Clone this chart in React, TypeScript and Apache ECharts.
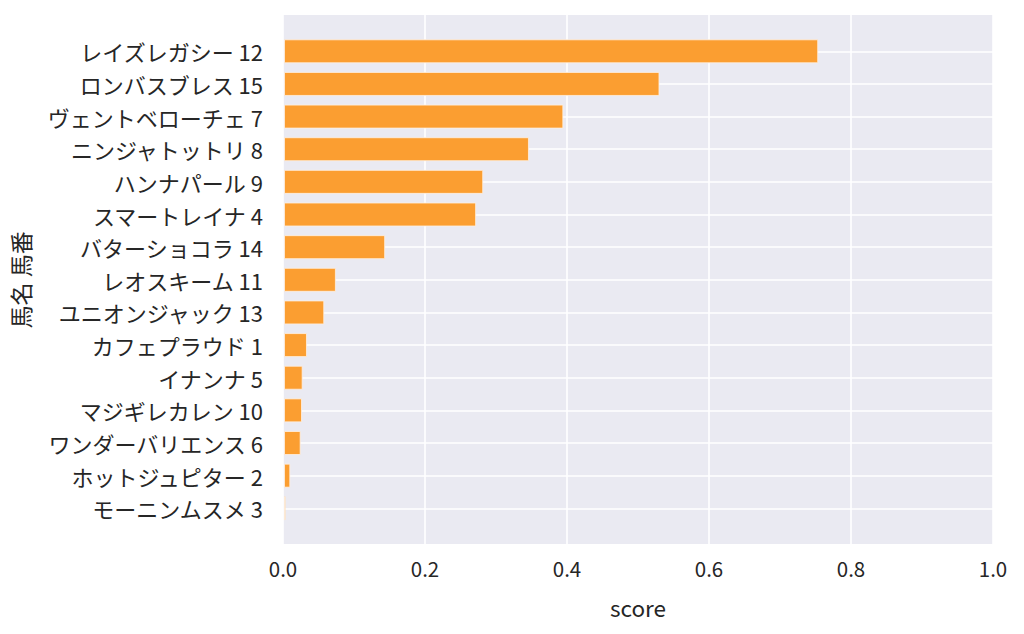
import React, { useEffect, useRef } from "react";
import * as echarts from "echarts";

const horses = [
  "レイズレガシー 12",
  "ロンバスブレス 15",
  "ヴェントベローチェ 7",
  "ニンジャトットリ 8",
  "ハンナパール 9",
  "スマートレイナ 4",
  "バターショコラ 14",
  "レオスキーム 11",
  "ユニオンジャック 13",
  "カフェプラウド 1",
  "イナンナ 5",
  "マジギレカレン 10",
  "ワンダーバリエンス 6",
  "ホットジュピター 2",
  "モーニンムスメ 3",
];
const scores = [
  0.7535, 0.5296, 0.394, 0.3455, 0.281, 0.271, 0.1427, 0.0732, 0.0568, 0.0324,
  0.0263, 0.0254, 0.0235, 0.0089, 0.0024,
];

const FONT = "'Noto Sans CJK JP', 'Noto Sans', sans-serif";
const TXT = "#262626";

export default function App() {
  const ref = useRef<HTMLDivElement>(null);
  useEffect(() => {
    if (!ref.current) return;
    const chart = echarts.init(ref.current, undefined, { renderer: "svg" });
    chart.setOption({
      animation: false,
      textStyle: { fontFamily: FONT },
      grid: [
        {
          left: 283,
          right: 31,
          top: 15,
          bottom: 90,
          show: true,
          backgroundColor: "#EAEAF2",
          borderWidth: 0,
          containLabel: false,
        },
        {
          left: 283,
          right: 31,
          top: 51.3,
          height: 457,
          containLabel: false,
        },
      ],
      xAxis: [
        {
          type: "value",
          gridIndex: 0,
          min: 0,
          max: 1,
          interval: 0.2,
          axisLine: { show: false },
          axisTick: { show: false },
          splitLine: { show: true, lineStyle: { color: "#ffffff", width: 1.6 } },
          axisLabel: {
            color: TXT,
            fontSize: 20.5,
            fontFamily: FONT,
            margin: 14,
            formatter: (v: number) => v.toFixed(1),
          },
          name: "score",
          nameLocation: "middle",
          nameGap: 52,
          nameTextStyle: { color: TXT, fontSize: 22.5, fontFamily: FONT },
        },
        {
          type: "value",
          gridIndex: 1,
          min: 0,
          max: 1,
          show: false,
        },
      ],
      yAxis: [
        {
          type: "value",
          gridIndex: 0,
          show: false,
        },
        {
          type: "category",
          gridIndex: 1,
          data: horses,
          inverse: true,
          boundaryGap: false,
          axisLine: { show: false },
          axisTick: { show: false },
          splitLine: { show: true, lineStyle: { color: "#ffffff", width: 1.6 } },
          axisLabel: {
            color: TXT,
            fontSize: 22,
            fontFamily: FONT,
            margin: 21,
          },
          name: "馬名 馬番",
          nameLocation: "middle",
          nameRotate: 90,
          nameGap: 253,
          nameTextStyle: { color: TXT, fontSize: 23, fontFamily: FONT },
        },
      ],
      series: [
        {
          type: "bar",
          xAxisIndex: 1,
          yAxisIndex: 1,
          data: scores,
          barWidth: 24,
          clip: false,
          itemStyle: {
            color: "#FB9E31",
            borderColor: "rgba(255,240,225,0.8)",
            borderWidth: 1,
          },
        },
      ],
    });
    return () => chart.dispose();
  }, []);
  return <div ref={ref} style={{ width: 1024, height: 634, position: "absolute", left: 0, top: 0 }} />;
}
